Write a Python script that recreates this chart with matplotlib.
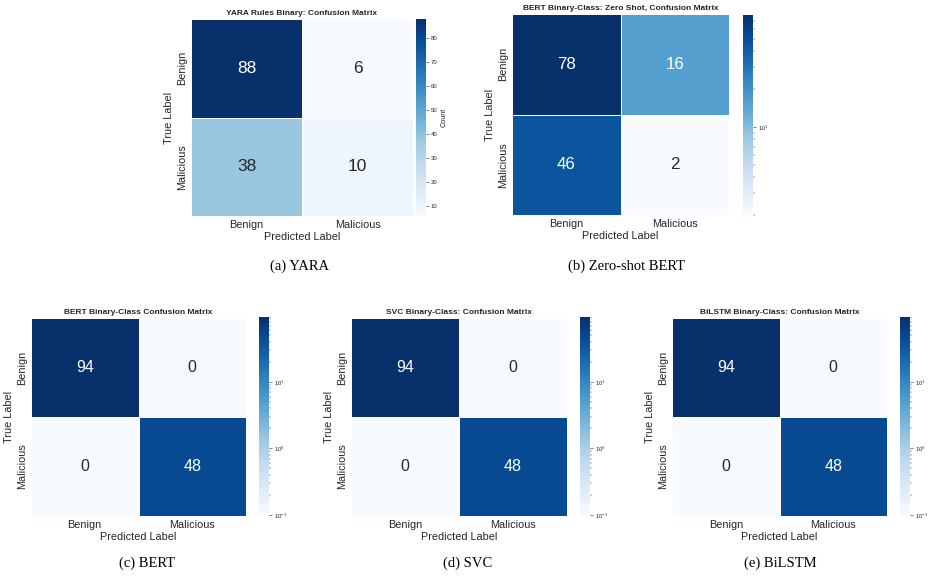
import numpy as np
import matplotlib
matplotlib.use("Agg")
import matplotlib.pyplot as plt
from matplotlib.colors import LogNorm, Normalize
import seaborn as sns

labels = ["Benign", "Malicious"]

yara_cm = [[88, 6], [38, 10]]
zeroshot_cm = [[78, 16], [46, 2]]
bert_cm = [[94, 0], [0, 48]]
svc_cm = [[94, 0], [0, 48]]
bilstm_cm = [[94, 0], [0, 48]]

titles = [
    "YARA Rules Binary: Confusion Matrix",
    "BERT Binary-Class: Zero Shot, Confusion Matrix",
    "BERT Binary-Class Confusion Matrix",
    "SVC Binary-Class: Confusion Matrix",
    "BiLSTM Binary-Class: Confusion Matrix",
]
captions = ["(a) YARA", "(b) Zero-shot BERT", "(c) BERT", "(d) SVC", "(e) BiLSTM"]

plt.rcParams["font.family"] = ["Liberation Sans", "DejaVu Sans"]
plt.rcParams["text.color"] = "#262626"
plt.rcParams["axes.labelcolor"] = "#262626"
plt.rcParams["xtick.color"] = "#262626"
plt.rcParams["ytick.color"] = "#262626"

W, H = 931, 579
fig = plt.figure(figsize=(W / 100, H / 100), dpi=100)


def px_axes(x0, y0, x1, y1):
    return fig.add_axes([x0 / W, 1 - y1 / H, (x1 - x0) / W, (y1 - y0) / H])


cmap = plt.get_cmap("Blues").with_extremes(bad=plt.get_cmap("Blues")(0.0))

# layout in pixels: heatmap box, colorbar box, caption center
panels = [
    (yara_cm, (191, 19, 413, 216), (416, 19, 426, 216), (300, 266), "linear", 12.5),
    (zeroshot_cm, (512, 14, 729, 215), (743, 15, 753, 215), (626, 266), "log", 12.2),
    (bert_cm, (31, 318, 246, 516), (259, 317, 269, 515), (147, 563), "log0", 11.5),
    (svc_cm, (351, 318, 567, 516), (580, 317, 590, 515), (468, 563), "log0", 11.5),
    (bilstm_cm, (672, 318, 887, 516), (900, 317, 910, 515), (780, 563), "log0", 11.5),
]

for i, (cm, hb, cb, cap, kind, asize) in enumerate(panels):
    data = np.array(cm)
    ax = px_axes(*hb)
    cax = px_axes(*cb)
    if kind == "linear":
        norm = Normalize(vmin=data.min(), vmax=data.max())
    elif kind == "log":
        norm = LogNorm(vmin=data.min(), vmax=data.max())
    else:
        norm = LogNorm(vmin=0.1, vmax=data.max())
    sns.heatmap(data, ax=ax, cbar_ax=cax, annot=True, fmt="d", cmap=cmap,
                norm=norm, linewidths=0.4, linecolor="white",
                xticklabels=labels, yticklabels=labels,
                annot_kws={"size": asize})
    ax.set_title(titles[i], fontsize=6, fontweight="bold", pad=3)
    ax.set_xlabel("Predicted Label", fontsize=7.8, labelpad=1)
    ax.set_ylabel("True Label", fontsize=7.8, labelpad=2)
    ax.tick_params(axis="both", length=0, labelsize=7.8, pad=3)
    for t in ax.get_yticklabels():
        t.set_rotation(90)
        t.set_va("center")
    cax.tick_params(which="both", labelsize=4.3, length=2, width=0.4, pad=1.5)
    cax.tick_params(which="minor", length=1.3, width=0.3)
    for s in cax.spines.values():
        s.set_visible(False)
    if kind == "linear":
        cax.set_ylabel("Count", fontsize=5.2, labelpad=2)
    fig.text(cap[0] / W, 1 - cap[1] / H, captions[i], ha="center", va="center",
             fontsize=10.5, family=["Liberation Serif", "DejaVu Serif"], color="black")

fig.savefig("out.png", dpi=100)
